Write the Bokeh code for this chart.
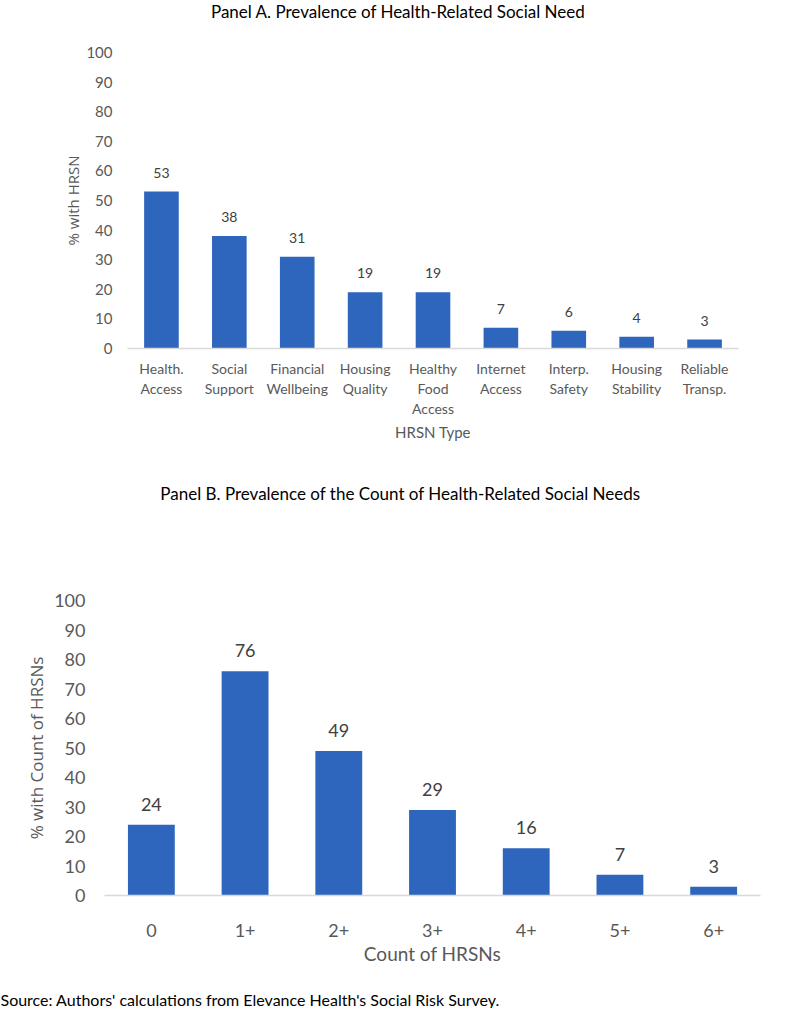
from bokeh.plotting import figure
from bokeh.models import ColumnDataSource, FixedTicker, Range1d
from bokeh.embed import file_html
from bokeh.resources import INLINE
from bokeh.core.properties import value

# ---- data ----
hrsn_types = ["Health.\nAccess", "Social\nSupport", "Financial\nWellbeing", "Housing\nQuality",
              "Healthy\nFood\nAccess", "Internet\nAccess", "Interp.\nSafety", "Housing\nStability",
              "Reliable\nTransp."]
hrsn_pct = [53, 38, 31, 19, 19, 7, 6, 4, 3]

counts = ["0", "1+", "2+", "3+", "4+", "5+", "6+"]
count_pct = [24, 76, 49, 29, 16, 7, 3]

y_ticks = [0, 10, 20, 30, 40, 50, 60, 70, 80, 90, 100]

title_a = "Panel A. Prevalence of  Health-Related Social Need"
title_b = "Panel B. Prevalence of the Count of Health-Related Social Needs"
source_note = "Source: Authors' calculations from Elevance Health's Social Risk Survey."

BLUE = "#2E66BE"
GRAY = "#595959"
LBL = "#404040"
FONT = "Lato"
YFONT = "Open Sans"
W = 787


def style(p, xtick_size, ytick_size, lab_size, yfont_size):
    p.outline_line_color = None
    p.xgrid.grid_line_color = None
    p.ygrid.grid_line_color = None
    p.yaxis.ticker = FixedTicker(ticks=y_ticks)
    p.yaxis.axis_line_color = None
    p.yaxis.major_tick_line_color = None
    p.yaxis.minor_tick_line_color = None
    p.xaxis.major_tick_line_color = None
    p.xaxis.minor_tick_line_color = None
    p.xaxis.axis_line_color = "#D9D9D9"
    p.xaxis.axis_line_width = 1.5
    for ax in (p.xaxis, p.yaxis):
        ax.major_label_text_font = FONT
        ax.major_label_text_color = GRAY
        ax.axis_label_text_color = GRAY
        ax.axis_label_text_font_style = "normal"
    p.xaxis.major_label_text_font_size = xtick_size
    p.yaxis.major_label_text_font_size = ytick_size
    p.xaxis.axis_label_text_font = FONT
    p.xaxis.axis_label_text_font_size = lab_size
    p.yaxis.axis_label_text_font = YFONT
    p.yaxis.axis_label_text_font_size = yfont_size


def text_strip(text, height, y_from_top, x, align, size):
    """A thin figure holding one line of heading / note text."""
    t = figure(width=W, height=height, x_range=Range1d(0, W), y_range=Range1d(height, 0),
               x_axis_type=None, y_axis_type=None, output_backend="svg", toolbar_location=None,
               min_border=0, outline_line_color=None)
    t.grid.visible = False
    t.text(x=[x], y=[y_from_top], text=[text], text_align=align, text_baseline="middle",
           text_font=value(FONT), text_font_size=size, text_color="#000000")
    return t


# ---- Panel A ----
tA = text_strip(title_a, 24, 11, 400, "center", "17px")

srcA = ColumnDataSource(dict(x=hrsn_types, y=hrsn_pct, t=[str(v) for v in hrsn_pct]))
p1 = figure(x_range=hrsn_types, y_range=(0, 100), width=W, height=436,
            output_backend="svg", toolbar_location=None,
            min_border_left=127, min_border_right=49, min_border_top=28, min_border_bottom=112)
p1.vbar(x="x", top="y", width=0.51, source=srcA, fill_color=BLUE, line_color=None)
p1.text(x="x", y="y", text="t", source=srcA, text_align="center", text_baseline="bottom",
        y_offset=-14, text_font=value(FONT), text_font_size="14px", text_color=LBL)
style(p1, "14px", "15px", "15px", "15px")
p1.yaxis.axis_label = "% with HRSN"
p1.yaxis.major_label_standoff = 9
p1.yaxis.axis_label_standoff = 0
p1.xaxis.axis_label = "HRSN Type"
p1.xaxis.major_label_standoff = 5
p1.xaxis.axis_label_standoff = 3

# ---- Panel B ----
tB = text_strip(title_b, 60, 33, 400, "center", "17px")

srcB = ColumnDataSource(dict(x=counts, y=count_pct, t=[str(v) for v in count_pct]))
p2 = figure(x_range=counts, y_range=(0, 100), width=W, height=460,
            output_backend="svg", toolbar_location=None,
            min_border_left=104, min_border_right=27, min_border_top=80, min_border_bottom=85)
p2.vbar(x="x", top="y", width=0.5, source=srcB, fill_color=BLUE, line_color=None)
p2.text(x="x", y="y", text="t", source=srcB, text_align="center", text_baseline="bottom",
        y_offset=-14, text_font=value(FONT), text_font_size="18px", text_color=LBL)
style(p2, "18px", "18px", "19px", "17px")
p2.yaxis.axis_label = "% with Count of HRSNs"
p2.yaxis.major_label_standoff = 13
p2.yaxis.axis_label_standoff = 3
p2.xaxis.axis_label = "Count of HRSNs"
p2.xaxis.major_label_standoff = 22
p2.xaxis.axis_label_standoff = 2

tS = text_strip(source_note, 28, 19, 0, "left", "16px")

open("out.html", "w").write(file_html([tA, p1, tB, p2, tS], INLINE))
